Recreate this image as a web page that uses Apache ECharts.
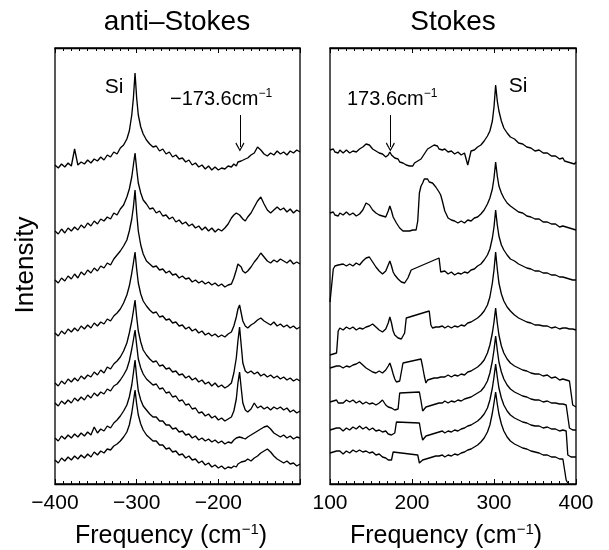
<!DOCTYPE html>
<html><head><meta charset="utf-8">
<script src="https://cdn.jsdelivr.net/npm/echarts@6.0.0/dist/echarts.min.js"></script>
<style>html,body{margin:0;padding:0;background:#fff}#chart{width:609px;height:550px}</style>
</head><body><div id="chart"></div>
<script>
// ---------- anti-Stokes panel (shared frequency grid, cm^-1) ----------
const L_FREQ = [-400,-396,-392,-388,-384,-380,-376,-372,-368,-364,-360,-356,-352,-348,-344,-340,-336,-332,-328,-324,-320,-316,-312,
  -309,-306,-304,-302,-300,-298,-295,-292,
  -288,-284,-280,-276,-272,-268,-264,-260,-256,-252,-248,-244,-240,-236,-232,-228,-224,-220,-216,-212,-208,-204,-200,-196,-192,-188,-184,
  -181,-178,-176,-174,-172,-170,-167,-164,
  -160,-156,-152,-148,-144,-140,-136,-132,-128,-124,-120,-116,-112,-108,-104,-100];
// intensities with vertical offsets (top trace first)
const L1 = [318,315,319,316,320,317,334,318,321,319, 323,320,324,322,326,323,328,326,331,329, 335,338,344,352,368,385,410,385,368,356,
  349,343,339,336,337,332,334,329,331,326, 328,324,325,321,323,318,320,316,318,314, 317,313,316,313,315,314,317,316,319,317,
  321,319,322,320,324,325,328,330,336,333, 329,327,330,328,332,329,331,328,332,330, 333,331];
const L2 = [252,249,254,250,255,252,256,253,258,255, 260,257,262,259,264,262,266,264,270,268, 274,278,286,294,306,318,330,314,300,290,
  283,279,274,275,270,272,267,268,264,266, 261,263,259,261,257,259,255,257,253,256, 252,255,251,254,252,255,259,265,268,270,
  272,268,266,264,262,266,270,276,282,286, 279,273,270,273,276,273,275,271,274,270, 273,271];
const L3 = [203,200,205,202,207,204,209,205,211,208, 213,210,215,212,217,215,220,218,224,228, 232,237,243,252,264,276,293,270,252,238,
  229,222,219,216,217,213,214,210,212,208, 209,205,207,204,205,201,203,200,202,199, 201,198,200,197,199,196,198,199,205,213,
  219,221,216,212,210,212,216,221,225,230, 226,222,220,223,221,224,222,220,223,219, 221,219];
const L4 = [150,147,152,149,154,151,155,152,157,154, 158,155,160,157,161,159,164,162,167,170, 174,180,188,197,210,220,231,214,200,189,
  182,177,173,170,171,166,167,163,164,160, 161,157,158,154,156,152,154,150,152,148, 150,147,149,146,148,146,149,151,157,166,
  174,178,170,162,157,155,158,160,163,165, 162,160,158,161,157,159,156,158,155,157, 154,156];
const L5 = [100,97,102,99,104,101,105,102,107,104, 108,106,111,108,113,110,116,114,119,122, 126,132,140,150,162,172,183,166,152,141,
  133,128,124,121,122,117,118,114,115,111, 112,108,109,105,107,103,105,101,103,99, 101,97,100,96,98,95,97,100,110,125,
  142,156,138,120,112,110,112,109,111,107, 109,106,108,105,107,104,106,103,105,102, 104,102];
const L6 = [80,77,82,79,83,80,85,82,86,83, 88,85,90,87,91,89,94,92,97,99, 103,108,114,122,134,143,153,138,124,115,
  109,104,101,98,99,94,95,90,91,86, 87,82,83,78,79,74,75,70,71,67, 69,65,67,63,65,62,64,66,72,84,
  100,111,95,80,73,71,74,80,75,77, 74,76,73,76,74,76,73,75,71,73, 70,72];
const L7 = [45,42,47,44,48,45,49,46,50,47, 51,48,56,50,54,52,57,55,60,63, 67,72,78,86,98,110,123,106,92,83,
  77,73,69,66,66,62,62,58,58,54, 55,51,52,48,49,45,47,43,45,42, 44,41,43,40,42,39,41,40,43,45,
  47,46,44,45,44,46,48,50,52,54, 56,57,54,50,48,46,48,45,47,44, 46,45];
const L8 = [23,20,25,22,26,23,27,24,28,25, 29,26,31,28,32,30,34,33,37,39, 42,46,51,58,70,81,93,79,68,59,
  53,48,45,42,42,38,38,34,35,31, 32,28,29,25,27,23,24,20,22,18, 20,16,18,15,17,14,16,15,17,16,
  19,18,21,20,22,24,22,25,27,30, 32,34,31,27,24,22,20,22,19,20, 17,19];

// ---------- Stokes panel ----------
const R_FREQ = [100,102,104,106,108,110,112,116,120,124, 128,132,136,140,144,148,152,156,160,164,
  168,171,173,175,177,179,181,183,185,187, 189,191,193,195,197,199,201,203,205,207,
  209,211,213,215,217,219,221,223,225,227, 229,231,233,235,237,240,244,248,252,256,
  260,264,268,272,276,280,284,288,292,295, 298,300,302,304,306,309,312,316,320,325,
  330,335,340,345,350,355,360,365,370,375, 380,384,386,388,390,392,394,396,398,400];
const _ = null; // no data recorded (straight gap in the plot)
const R1 = [333,331,334,331,333,330,333,330,333,330, 332,331,334,336,339,338,334,332,330,329,
  326,328,331,328,326,325,323,324,321,322, 320,321,318,319,317,319,317,320,319,322,
  321,324,326,329,331,334,333,336,335,338, 336,337,334,336,333,334,331,332,329,331,
  328,330,318,332,333,336,338,342,347,352, 362,376,398,382,372,362,355,350,346,344,
  340,339,336,335,332,333,330,330,327,327, 324,325,322,324,321,323,320,322,319,321];
const R2 = [270,268,271,268,270,267,270,268,271,268, 270,267,269,273,280,278,273,270,268,267,
  266,272,277,272,266,263,260,258,255,254, 252,254,252,254,252,254,253,255,253,262,
  290,297,300,304,302,304,301,302,300,299, 296,294,291,288,282,272,265,263,262,260,
  262,260,263,262,265,266,269,273,279,285, 294,305,321,307,297,290,285,280,277,274,
  271,270,267,266,264,264,261,261,259,259, 256,257,255,256,254,255,253,254,252,253];
const R3 = [181,183,214,217,215,218,216,219,217,219, 217,220,218,222,225,226,221,216,212,209,
  212,218,222,217,211,208,206,204,203,201, 202,200,202,205,209,213,_,_,_,_,
  _,_,_,_,_,_,_,_,_,_, _,_,225,211,210,212,209,211,208,210,
  209,211,210,213,214,217,219,223,228,234, 245,256,273,258,247,238,233,228,224,222,
  219,217,215,214,212,212,210,210,208,208, 206,206,204,205,203,204,202,203,201,203];
const R4 = [128,126,129,127,130,152,155,153,156,154, 156,153,155,154,156,157,159,156,153,151,
  154,160,166,160,152,148,146,145,146,144, 147,150,165,_,_,_,_,_,_,_,
  _,_,_,_,_,_,172,158,155,154, 156,154,156,155,157,155,157,155,157,156,
  158,157,160,161,163,165,168,172,178,186, 200,213,231,214,200,189,182,176,172,168,
  165,163,161,160,158,158,157,157,155,156, 154,155,153,155,153,154,152,154,152,153];
const R5 = [115,113,116,114,117,115,117,115,117,116, 118,119,121,118,115,113,111,110,112,110,
  113,117,120,115,109,104,101,100,102,104, 120,_,_,_,_,_,_,_,_,_,
  _,124,116,107,100,103,105,104,106,105, 107,105,107,106,108,106,108,106,108,107,
  109,108,111,112,114,116,119,123,130,138, 150,161,175,160,148,137,130,124,120,117,
  115,113,112,110,109,109,107,108,105,106, 103,104,102,103,101,102,100,78,76,76];
const R6 = [81,79,82,80,83,80,82,80,83,81, 83,80,82,79,81,79,80,78,80,83,
  78,76,77,75,74,73,72,74,90,_, _,_,_,_,_,_,_,_,_,_,
  91,82,72,74,76,78,77,79,78,80, 79,81,80,82,80,82,80,82,81,83,
  82,84,85,86,88,90,92,96,102,110, 122,133,147,133,121,111,104,98,94,91,
  89,87,86,84,83,83,81,82,80,80, 79,79,77,78,76,55,53,53,53,53];
const R7 = [53,51,54,52,55,53,55,52,55,53, 56,54,57,54,56,53,55,52,53,51,
  52,49,50,48,49,50,61,_,_,_, _,_,_,_,_,_,_,_,_,_,
  60,50,43,45,47,46,48,47,49,48, 50,49,51,50,52,50,52,51,53,52,
  54,55,57,58,60,62,65,69,75,83, 95,106,119,106,95,85,78,72,68,65,
  63,61,60,58,57,57,55,56,54,54, 52,53,51,52,28,26,26,26,26,26];
const R8 = [30,28,31,29,32,30,32,29,32,30, 33,31,33,31,32,30,31,28,29,26,
  25,23,24,23,31,_,_,_,_,_, _,_,_,_,_,_,_,_,_,28,
  20,21,23,22,24,23,25,24,26,25, 27,25,27,26,28,26,28,27,29,28,
  30,31,33,34,36,38,41,45,51,58, 70,80,91,79,69,59,52,46,42,39,
  37,35,34,32,31,30,28,28,26,26, 24,24,22,3,0,_,_,_,_,_];

// ---------- tick labels ----------
const LEFT_TICKS = [-400,-300,-200,-100];
const LEFT_TICK_LABELS = ['\u2212400','\u2212300','\u2212200',''];
const RIGHT_TICKS = [100,200,300,400];
const RIGHT_TICK_LABELS = ['100','200','300','400'];
const PEAK_MARK = 173.6; // arrow positions (cm^-1)

const FONT = '"Liberation Sans", Arial, Helvetica, sans-serif';
const chart = echarts.init(document.getElementById('chart'), null, {renderer:'canvas'});

function trace(xs, ys, idx) {
  return {
    type:'line', xAxisIndex: idx, yAxisIndex: idx,
    data: xs.map((x,i)=>[x, ys[i]]).filter(p=>p[1]!==null),
    showSymbol:false, symbol:'none', silent:true, animation:false,
    lineStyle:{color:'#000', width:1.35}
  };
}
function xAxisDef(grid, min, max, pos, ticks, labels, hideMax) {
  return {
    type:'value', gridIndex:grid, min:min, max:max, interval:100, position:pos,
    axisLine:{show:true, onZero:false, lineStyle:{color:'#000', width:1.3}},
    axisTick:{show:true, inside:true, length:5, lineStyle:{color:'#000', width:1}},
    minorTick:{show:true, splitNumber:10, length:3, lineStyle:{color:'#000', width:1}},
    splitLine:{show:false}, minorSplitLine:{show:false},
    axisLabel: pos==='bottom' ? {
      show:true, color:'#000', fontSize:21, fontFamily:FONT, margin:9,
      showMaxLabel: !hideMax, showMinLabel:true, hideOverlap:false,
      formatter: v => { const k = ticks.indexOf(v); return k>=0 ? labels[k] : ''; }
    } : {show:false}
  };
}
const arrowSym = 'path://M5,0 L10,9 L9,10 L5,2.5 L1,10 L0,9 Z';
function arrowLine(x) {
  return {
    silent:true, animation:false, symbol:['none', arrowSym], symbolSize:[9,9],
    label:{show:false}, lineStyle:{color:'#000', width:1, type:'solid'},
    data:[[{coord:[x, 368]}, {coord:[x, 336]}]]
  };
}

const leftSeries = [L1,L2,L3,L4,L5,L6,L7,L8].map(y=>trace(L_FREQ, y, 0));
const rightSeries = [R1,R2,R3,R4,R5,R6,R7,R8].map(y=>trace(R_FREQ, y, 1));
leftSeries[0].markLine = arrowLine(-PEAK_MARK);
rightSeries[0].markLine = arrowLine(PEAK_MARK);

const supRich = (size, supSize) => ({
  a:{fontSize:size, fontFamily:FONT, color:'#000', lineHeight:size+2},
  s:{fontSize:supSize, fontFamily:FONT, color:'#000', lineHeight:supSize, verticalAlign:'top'}
});
function txt(x, y, text, size, extra) {
  return Object.assign({type:'text', x:x, y:y, silent:true,
    style:{text:text, font: size+'px '+FONT, fill:'#000', textAlign:'center', align:'center', textVerticalAlign:'middle', verticalAlign:'middle'}}, extra||{});
}
function richTxt(x, y, text, size, supSize, align) {
  return {type:'text', x:x, y:y, silent:true,
    style:{text:text, rich:supRich(size, supSize), fill:'#000', fontSize:size, fontFamily:FONT,
      textAlign:align, align:align, textVerticalAlign:'middle', verticalAlign:'middle'}};
}

chart.setOption({
  backgroundColor:'#fff',
  animation:false,
  grid:[
    {left:55, top:48, width:245, height:436, show:true, borderColor:'#000', borderWidth:1.3, containLabel:false, outerBoundsMode:'none'},
    {left:330, top:48, width:246, height:436, show:true, borderColor:'#000', borderWidth:1.3, containLabel:false, outerBoundsMode:'none'}
  ],
  xAxis:[
    xAxisDef(0, -400, -100, 'bottom', LEFT_TICKS, LEFT_TICK_LABELS, true),
    xAxisDef(1, 100, 400, 'bottom', RIGHT_TICKS, RIGHT_TICK_LABELS, false),
    xAxisDef(0, -400, -100, 'top', LEFT_TICKS, LEFT_TICK_LABELS, true),
    xAxisDef(1, 100, 400, 'top', RIGHT_TICKS, RIGHT_TICK_LABELS, false)
  ],
  yAxis:[
    {type:'value', gridIndex:0, min:-1, max:435, show:false},
    {type:'value', gridIndex:1, min:-1, max:435, show:false}
  ],
  series: leftSeries.concat(rightSeries),
  graphic:[
    txt(177, 22, 'anti\u2013Stokes', 28),
    txt(453, 22, 'Stokes', 28),
    txt(26, 265, 'Intensity', 26, {rotation: Math.PI/2}),
    richTxt(171, 536, '{a|Frequency (cm}{s|\u22121}{a|)}', 25, 15, 'center'),
    richTxt(446, 536, '{a|Frequency (cm}{s|\u22121}{a|)}', 25, 15, 'center'),
    txt(114, 87, 'Si', 21),
    txt(518, 86, 'Si', 21),
    richTxt(170, 99, '{a|\u2212173.6cm}{s|\u22121}', 20, 12, 'left'),
    richTxt(347, 99, '{a|173.6cm}{s|\u22121}', 20, 12, 'left')
  ]
});
</script>
</body></html>
